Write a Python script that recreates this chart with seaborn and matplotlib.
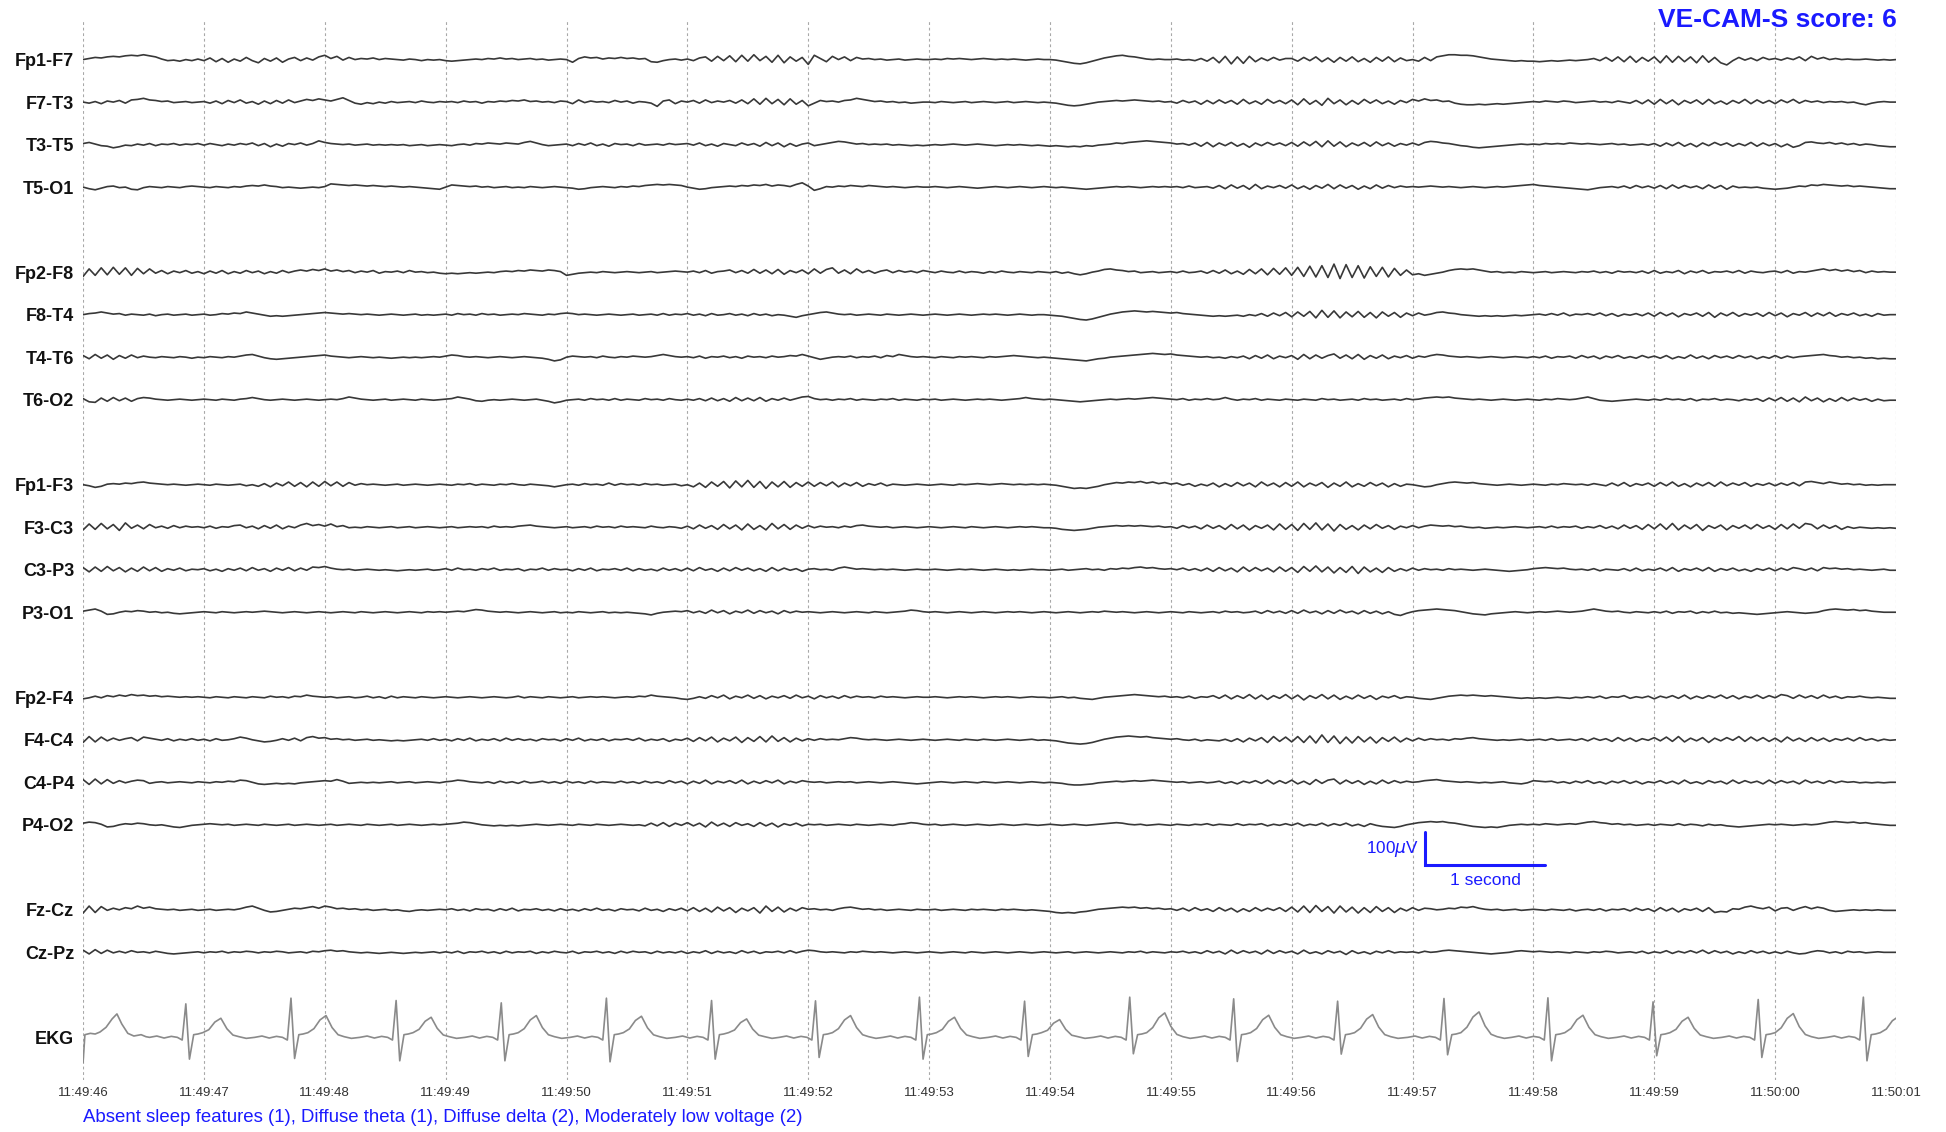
import numpy as np
import pandas as pd
import matplotlib
matplotlib.use("Agg")
import matplotlib.pyplot as plt
import seaborn as sns

# ---------------- data ----------------
FS = 20                 # EEG samples per second (values below, one row = 1 s)
UV_PER_UNIT = 1.6       # EEG values are written in steps of 1.6 microvolts
UV_PER_SLOT = 126.9     # vertical spacing between channel rows, in microvolts

channel_names = ["Fp1-F7", "F7-T3", "T3-T5", "T5-O1",
                 "Fp2-F8", "F8-T4", "T4-T6", "T6-O2",
                 "Fp1-F3", "F3-C3", "C3-P3", "P3-O1",
                 "Fp2-F4", "F4-C4", "C4-P4", "P4-O2",
                 "Fz-Cz", "Cz-Pz"]
channel_slots = [0, 1, 2, 3, 5, 6, 7, 8, 10, 11, 12, 13, 15, 16, 17, 18, 20, 21]
ekg_label = "EKG"
ekg_slot = 23

time_labels = ["11:49:46", "11:49:47", "11:49:48", "11:49:49", "11:49:50",
               "11:49:51", "11:49:52", "11:49:53", "11:49:54", "11:49:55",
               "11:49:56", "11:49:57", "11:49:58", "11:49:59", "11:50:00",
               "11:50:01"]

fp1_f7 = [
    0, 2, 4, 3, 5, 6, 5, 7, 8, 7, 9, 7, 5, 1, -2, -1, -3, 0, -2, 1,
    -2, 3, -4, 2, -5, 1, -3, 4, -2, -6, 2, -3, 3, -5, 1, 4, -2, 3, -1, 5,
    8, 2, 6, -1, 4, 0, 2, 1, 3, 0, 2, 1, 0, -1, 1, 0, -2, 0, -1, 0,
    -2, -3, -2, -1, 0, 1, 0, 2, 1, 3, 1, 2, 0, 1, 2, 0, 1, -1, 0, 1,
    0, -5, 2, 5, 3, 4, 1, 3, 2, 4, 2, 3, 1, 2, -4, -5, -2, 0, 1, -1,
    1, -2, 3, 5, -3, 6, -2, 7, -4, 8, -3, 9, -2, 6, -5, 8, -6, 5, -3, 4,
    -9, 8, 2, -4, 6, 0, 5, -2, 4, 1, 2, 0, 1, -1, 0, 1, -1, 0, 1, 0,
    0, 1, 0, 2, 1, 2, 1, 0, 1, 2, 1, 0, 1, 0, 1, 0, -1, 0, 1, 0,
    0, -1, -3, -5, -7, -8, -6, -3, 0, 3, 5, 7, 8, 6, 5, 3, 1, 0, 1, 0,
    0, 1, -1, 0, -2, 2, -3, 4, -6, 6, -8, 5, -7, 6, -4, 3, -2, 4, -1, 2,
    2, -3, 4, -2, 5, -4, 3, -5, 4, -3, 5, -4, 2, -5, 4, -3, 5, -4, 3, -2,
    0, -3, 4, -2, 5, 7, 9, 9, 8, 8, 7, 5, 3, 1, 0, -1, -2, -3, -2, -3,
    -3, -4, -3, -2, -3, -2, -1, -2, -1, 0, 2, -2, 4, -3, 5, -4, 6, -5, 4, -3,
    5, -6, 7, -5, 6, -4, 5, -6, 7, -5, 4, -6, -10, -2, 4, -1, 3, -2, 4, 0,
    2, -1, 3, 0, 5, -2, 6, 1, 4, 0, 2, 0, 1, 0, 0, 1, 0, -1, 0, -1,
    0]
f7_t3 = [
    0, -2, 1, -3, 2, 0, 3, -2, 4, 5, 7, 4, 3, 1, 2, -1, 0, 1, -1, 0,
    1, -2, 2, -3, 3, -1, 4, -2, 1, -4, 2, -3, 3, -2, 4, -1, 2, 5, 3, 6,
    4, 2, 5, 8, 3, -2, -4, -1, -3, 0, -2, 1, -1, 0, 1, -1, 2, 0, -1, 1,
    0, 1, -1, 2, 0, 1, -2, 1, 0, 2, 1, 3, 2, 4, 1, 2, 0, 1, -1, 2,
    1, -3, 4, -1, 2, 0, 1, -1, 3, 0, 2, -2, 1, 0, -2, -8, 2, 4, -3, 2,
    0, 3, -2, 4, -1, 2, 0, 3, -2, 4, -3, 6, -4, 7, -3, 5, -5, 6, -4, 3,
    -7, -2, 3, 1, 2, 0, 3, 4, 7, 5, 3, 1, 2, 0, 1, -1, 0, -2, -1, 0,
    0, -1, 1, 0, -1, 0, 1, -1, 0, 1, 0, -1, 0, 1, -1, 0, 1, 0, -1, 0,
    -1, -2, -4, -6, -7, -6, -4, -2, 0, 1, 2, 3, 2, 3, 4, 3, 2, 1, 2, 0,
    1, -2, 3, -1, 2, -4, 3, -3, 4, -2, 3, -4, 5, -3, 2, -4, 5, -2, 3, -3,
    4, -5, 6, -4, 3, -6, 7, -3, 4, -5, 3, -4, 5, -2, 4, -3, 2, -4, 3, -1,
    5, 2, 6, 3, 4, 1, 2, -2, -4, -5, -5, -4, -5, -4, -3, -4, -3, -2, -1, 0,
    1, 0, 2, 1, 0, 2, 1, -1, 0, 1, 2, 0, 1, -1, 2, 0, -2, 3, -3, 4,
    -4, 5, -3, 4, -5, 3, -2, 4, -4, 5, -3, 2, -4, 3, -2, 5, -3, 4, -2, 3,
    -3, 4, -1, 5, -2, 3, 0, 2, -1, 1, 0, 1, -1, 0, -3, -5, -2, 0, 1, 0,
    0]
t3_t5 = [
    2, 4, 1, -2, -3, -6, -4, -1, -2, 1, -1, 2, -2, 1, 0, 2, -1, 1, 0, 2,
    -1, 2, 0, -2, 1, -1, 2, 0, 3, -2, 2, -4, 1, -3, 2, 0, 3, -1, 2, 7,
    4, 2, 1, 0, 1, -1, 0, 1, -1, 0, -1, 0, -1, 0, -2, -1, 0, -2, -1, 0,
    -1, -2, 0, 1, -1, 2, 1, 3, 2, 1, 3, 2, 1, 4, 6, 3, 0, -2, -1, 0,
    1, -2, 2, -1, 3, -2, 1, -3, 2, 0, 1, -2, 2, -1, 0, 1, -1, 2, 0, 1,
    2, -1, 3, -2, 1, -3, 2, 0, -2, 3, -1, 2, -3, 4, -2, 3, -4, 2, -3, 1,
    3, -2, 0, 2, 4, 6, 5, 3, 1, 2, 0, 1, 0, 1, -1, 0, -1, -2, -1, -2,
    -1, 0, -1, 0, 1, 0, -1, 0, 1, 0, -1, -2, -1, 0, -1, 0, -1, -2, -1, -2,
    -3, -2, -3, -4, -3, -4, -2, -3, -1, 0, 1, 3, 2, 4, 5, 6, 7, 6, 5, 4,
    3, 1, 2, -1, 3, -3, 4, -4, 3, -2, 4, -3, 2, -5, 3, -2, 4, -1, 3, -2,
    4, -3, 5, -2, 6, -4, 7, -3, 5, -4, 3, -2, 4, -3, 5, -2, 3, -3, 2, -1,
    3, -1, 4, 6, 5, 3, 2, 0, -2, -3, -5, -6, -5, -4, -3, -2, -1, 0, 1, 0,
    1, 0, 2, 1, 2, 1, 3, 2, 1, 2, 1, 0, 1, 2, 0, 1, -1, 0, 1, -1,
    2, -3, 3, -2, 4, -3, 2, -4, 3, -2, 4, -1, 3, -3, 2, -2, 4, -3, 3, -2,
    2, -4, 1, -5, -2, 4, 5, 3, 2, 4, 1, 3, 0, 2, -1, 1, 0, -2, -3, -4,
    -4]
t5_o1 = [
    0, -3, -5, -2, 1, 2, -1, 0, -4, -5, -1, 1, 0, -1, 1, 0, -1, 1, 2, 1,
    0, -1, 1, 0, -1, 1, 0, 2, 3, 2, 4, 2, 1, -1, 0, -1, -2, -1, 0, -1,
    1, 6, 5, 4, 3, 4, 3, 2, 3, 2, 1, 2, 1, 0, 1, 0, -1, -2, -3, -4,
    0, 4, 3, 2, 1, 2, 0, 1, -1, 0, 1, -1, 0, -1, 1, 0, -1, 0, 1, 0,
    -1, -2, -4, -3, -1, 0, 1, 0, -1, 1, 0, 2, 1, 3, 4, 5, 4, 5, 4, 3,
    0, -2, -4, -3, -1, 0, 1, 2, 1, 3, 2, 4, 3, 5, 2, 4, 3, 1, 5, 8,
    2, -6, -3, 1, 0, 2, 1, 3, 2, 1, 3, 2, 1, 0, 1, 0, -1, 0, 1, 0,
    0, 1, 0, -1, 0, 1, 0, -1, -2, -1, 0, 1, 0, -1, 0, 1, 0, -1, 0, 1,
    0, -1, 0, -1, -2, -3, -4, -3, -2, -1, 0, 1, 0, 1, 0, -1, 0, 1, 0, 1,
    0, 1, -1, 2, -1, 0, 1, -2, 3, -3, 4, -2, 3, -4, 5, -3, 2, -1, 3, -2,
    4, -3, 2, -4, 3, -2, 5, -3, 4, -2, 3, -4, 2, -3, 4, -2, 3, -1, 2, 0,
    1, 0, 1, 2, 1, 0, 1, 0, -1, 0, 1, 0, -1, 0, 1, 0, 1, 2, 3, 4,
    5, 3, 2, 1, 0, -1, -2, -3, -4, -5, -3, -1, 0, 1, -1, 2, -2, 3, -1, 2,
    -2, 3, -3, 4, -2, 3, -1, 2, -3, 4, -2, 3, -4, 2, -1, 0, -1, 0, -2, -3,
    -4, -3, -2, 0, 2, 1, 4, 3, 5, 4, 3, 2, 3, 1, 2, 1, 0, -1, -2, -3,
    -3]
fp2_f8 = [
    -8, 6, -6, 8, -5, 9, -4, 8, -6, 7, -3, 6, -2, 3, -3, 2, -1, 3, -2, 1,
    -3, 2, -2, 3, -3, 1, -2, 3, -1, 2, -3, 1, -2, 3, -1, 2, 4, 2, 5, 3,
    6, 2, 4, 1, 3, -1, 2, 0, 3, -2, 1, 0, 2, -1, 3, 0, 1, -1, 0, -2,
    -3, -2, -3, -2, -1, -2, -1, 0, -1, 1, 2, 1, 3, 2, 4, 3, 2, 4, 3, 1,
    -6, -4, -2, -1, 0, -1, 1, 0, -1, 0, 1, 0, -1, 0, 1, -1, 0, 1, 2, 1,
    0, 2, -1, 3, -2, 1, 2, 4, -1, 3, -2, 5, -2, 4, -3, 5, -4, 3, -1, 4,
    -3, 6, -2, 5, 8, -2, 4, -3, 6, -1, 3, -2, 2, 4, -1, 3, 0, 2, -1, 3,
    1, -1, 2, 0, -1, 2, -1, 1, 0, -2, 1, -1, 2, 0, -1, 1, 0, -1, 1, 0,
    -1, 1, -2, 0, -3, -5, -3, 0, 2, 5, 6, 4, 3, 1, 2, -1, 0, 1, -1, 0,
    1, -1, 2, -1, 0, 2, -2, 3, -2, 4, -3, 2, -4, 5, -3, 6, -5, 7, -4, 8,
    -6, 9, -8, 11, -9, 12, -10, 15, -12, 14, -10, 12, -11, 10, -8, 9, -9, 7, -6, 4,
    -5, -3, -6, -4, -2, 0, 3, 5, 6, 5, 6, 4, 2, 0, 1, -1, 0, -1, 1, 0,
    -1, 0, 1, -1, 0, 1, 0, -1, 1, 0, 2, -1, 1, -2, 2, 0, 1, -1, 2, -2,
    3, -2, 1, -1, 3, -3, 2, -1, 3, -2, 1, 0, 2, -1, 3, -2, 2, 0, -1, 1,
    2, -1, 3, -2, 1, 0, 2, 4, 6, 3, 5, 2, 4, 1, 3, -1, 2, 0, 1, 0,
    0]
f8_t4 = [
    0, 2, 3, 5, 3, 1, 2, -1, 1, 0, -1, 1, -2, 0, 1, -1, 0, 1, -1, 0,
    1, -1, 0, 2, 1, 3, 2, 5, 3, 1, -1, -3, -2, -3, -2, -1, 0, 1, 2, 3,
    4, 3, 2, 1, 2, 1, 0, 1, 0, -1, 0, 1, 0, -1, 0, 1, -1, 0, -1, 0,
    1, -1, 2, 0, 1, -1, 2, 0, 1, -1, 0, 1, 0, 2, 1, 0, -1, 1, 0, 2,
    3, 2, 0, 1, 0, -1, 0, 1, 0, -1, 0, 1, -1, 0, 1, -1, 2, -1, 1, 0,
    2, -1, 1, -2, 2, -1, 0, 2, -1, 1, -2, 2, -1, 1, -2, 0, -1, -3, -5, -2,
    0, 2, 4, 5, 3, 1, 0, 1, -1, 0, 1, 0, -1, 1, 0, -1, 0, 1, 0, -1,
    0, 1, 0, -1, 0, 1, 0, -1, 0, 1, 0, 1, 0, -1, 0, 1, 0, -1, 0, 0,
    -1, -2, -3, -5, -7, -9, -10, -8, -5, -2, 1, 3, 5, 6, 7, 6, 5, 6, 5, 4,
    3, 4, 2, 1, 0, -1, -2, -3, -2, -3, -2, -1, -3, 0, -2, 2, -3, 3, -2, 4,
    -4, 5, -3, 6, -6, 8, -5, 7, -6, 5, -4, 6, -5, 4, -6, 5, -3, 4, -5, 3,
    -2, 3, -1, 1, 4, 5, 3, 2, 0, -1, -2, -3, -2, -3, -2, -3, -2, -1, -2, -1,
    0, 1, -1, 2, -1, 3, -2, 1, 0, 2, -1, 3, -2, 2, -3, 1, -1, 2, -2, 3,
    -3, 4, -2, 3, -4, 2, -1, 3, -3, 4, -5, 3, -2, 4, -3, 2, -1, 3, -3, 4,
    -2, 3, -4, 2, -1, 4, -3, 3, -2, 4, -3, 2, -1, 3, -2, 1, -3, 2, -1, 0,
    0]
t4_t6 = [
    3, -3, 5, -2, 4, -4, 3, -2, 4, -1, 2, 0, -1, 1, 0, -1, 1, 0, -2, 0,
    -1, 1, 0, -1, 1, 0, 2, 4, 5, 2, -1, -3, -4, -3, -2, -1, 0, 1, 2, 3,
    4, 2, 1, 0, -1, 0, 1, 0, -1, 0, -1, -2, -1, 0, -1, 0, -1, 0, 1, 0,
    2, 4, 3, 1, 0, 1, 0, -1, 0, 1, 0, -1, 0, 1, 0, -1, -2, -4, -7, -5,
    0, 2, 1, 0, 1, -1, 2, 0, -1, 1, 0, 2, 1, 0, 1, 3, 5, 3, 1, 0,
    1, -1, 2, -2, 1, 0, 2, -1, 1, -2, 2, 0, 1, -1, 2, 0, 1, 3, 2, 5,
    2, -1, -4, -2, 0, 1, 0, 2, -1, 1, 0, 2, -1, 3, 1, 5, 3, 1, 0, 1,
    0, -1, 1, 0, -1, 1, 0, 1, 0, -1, 1, 0, 1, 2, 3, 2, 1, 0, -1, 0,
    -1, -2, -3, -4, -5, -6, -7, -5, -3, -2, 0, 1, 2, 3, 4, 5, 6, 7, 6, 5,
    6, 4, 3, 2, 1, 0, 1, -1, 0, -2, 1, -1, 2, -3, 3, -2, 4, -3, 2, -1,
    3, -4, 5, -3, 4, -2, 3, 6, -2, 4, -3, 5, -4, 3, -2, 4, -3, 2, -1, 3,
    -2, 2, 0, 3, 5, 4, 2, 1, 0, 1, 0, -1, 0, 1, 0, -1, 0, 1, 0, -1,
    1, -1, 2, -2, 1, 0, 2, -2, 3, -1, 2, -3, 2, -1, 3, -2, 1, -2, 3, -1,
    2, -2, 3, -3, 1, -2, 4, -2, 2, -3, 3, -1, 2, -2, 3, -1, 2, -3, 1, -2,
    3, -2, 2, -1, 1, 2, 3, 4, 5, 3, 2, 0, 1, -1, 0, -2, -1, -3, -2, -3,
    -3]
t6_o2 = [
    2, -4, -5, 3, -3, 4, -2, 3, -3, 2, 4, 3, 1, 0, -1, 0, 1, 0, -1, 0,
    1, 0, -1, 1, 0, -1, 1, 2, 4, 2, 0, -1, 0, 1, 0, -1, 0, 1, 0, -1,
    0, 1, 0, 2, 5, 3, 1, 0, -1, 0, 1, -1, 0, 1, 0, -1, 1, 0, -1, 0,
    1, 2, 5, 3, 1, -2, -3, -1, 0, -1, 0, 1, 0, -1, 0, 1, -1, -3, -6, -4,
    -1, 0, 1, -1, 2, 0, 1, -1, 2, -1, 1, 0, -1, 2, 0, 1, -1, 2, 0, -1,
    1, -1, 2, -2, 3, -2, 2, -3, 4, -2, 3, -2, 4, -3, 2, -1, 3, -1, 2, 5,
    6, 2, 0, 1, -1, 1, 0, 2, -1, 1, 0, -1, 1, 0, 2, -1, 1, 0, -1, 1,
    0, 1, -1, 0, 1, 0, -1, 0, 1, 0, 1, 0, -1, 0, 1, 2, 4, 2, 1, 0,
    1, 0, -1, -2, -3, -4, -3, -2, -1, 0, 1, 0, 1, 2, 1, 2, 3, 4, 3, 2,
    1, 0, 2, -1, 1, 0, 2, 0, 1, 4, 1, -1, 1, 0, 2, -1, 1, 0, -1, 1,
    0, -1, 1, 0, -1, 2, 0, 1, -1, 0, 1, -1, 2, 0, 1, -1, 0, 1, -1, 2,
    0, 1, 3, 4, 5, 4, 5, 3, 2, 1, 0, 1, 0, -1, 0, 1, 0, -1, 0, 1,
    0, -1, 1, 0, 2, 1, 0, 1, 3, 5, 2, -1, -2, -3, -2, -1, 0, 1, 0, -1,
    1, -1, 2, 0, 1, -1, 2, -2, 1, 0, 2, -1, 1, 0, -2, 1, -1, 2, -3, 3,
    -2, 4, -3, 3, -4, 5, -2, 3, -4, 2, -3, 4, -2, 3, -1, 2, -3, 1, -2, -1,
    -1]
fp1_f3 = [
    0, -2, -5, -3, 1, 2, 1, 3, 2, 4, 5, 3, 2, 1, 0, 1, 0, -1, 0, 1,
    0, -1, 1, 0, -1, 0, 1, -2, 0, -3, 2, -4, 3, -2, 5, -3, 4, -4, 5, -3,
    6, -2, 5, -3, 4, -1, 2, 0, 1, 0, -1, 0, 1, -1, 0, 1, 0, -1, 0, 1,
    0, -1, 1, 0, 2, -1, 1, 0, -1, 1, 0, 2, 0, -1, 1, 0, -1, -2, -4, -2,
    0, 1, -1, 2, 0, 1, -1, 3, -1, 2, 0, 1, -1, 2, 0, 1, -1, 0, 1, -2,
    0, -4, 3, -5, 5, -3, 6, -6, 7, -4, 8, -5, 6, -7, 5, -4, 6, -5, 4, -3,
    5, -3, 4, -2, 5, -4, 3, -2, 4, -3, 2, -1, 3, -2, 1, 0, -1, 0, 1, 0,
    -1, 0, 1, 0, -1, 1, 0, 1, 2, 1, 0, 1, 2, 1, 0, 1, 0, 1, 0, 1,
    0, -1, -3, -5, -7, -6, -7, -5, -3, 0, 2, 4, 3, 5, 4, 6, 3, 5, 2, 4,
    1, 3, -1, 2, -3, 1, -2, 3, -4, 2, -3, 4, -2, 3, -4, 5, -2, 3, -4, 4,
    -3, 5, -4, 3, -2, 4, -5, 3, -3, 5, -4, 2, -3, 4, -2, 3, -4, 2, -3, 1,
    0, -2, -4, -3, 0, 2, 4, 5, 4, 3, 4, 2, 1, 0, -1, 0, 1, 0, -1, 0,
    1, 0, -1, 1, 0, 2, 1, 0, 1, -1, 2, 0, -2, 3, -2, 4, -3, 2, -1, 3,
    -3, 4, -2, 5, -3, 2, -4, 3, -2, 4, -3, 5, -2, 3, -1, 4, -3, 2, -1, 3,
    -2, 3, -1, 4, -2, 5, 6, 4, 2, 5, 3, 1, 2, 0, 1, -1, 0, -1, 0, 0,
    0]
f3_c3 = [
    -5, 6, -4, 7, -3, 5, -6, 8, -2, 4, -3, 5, -1, 2, -2, 3, -1, 2, 0, 1,
    -1, 2, -2, 1, 0, 3, 4, -1, 2, -3, 3, -2, 4, -3, 2, -1, 4, 7, 3, 5,
    2, 6, 1, 3, -1, 0, -1, 1, 0, -1, 0, 1, -1, 0, 1, -1, 0, 1, 0, -1,
    0, 1, -1, 0, 1, 0, 1, -1, 2, 0, 1, 0, 2, 3, 4, 2, 1, 0, -1, 0,
    1, -1, 0, 1, -1, 2, 0, 1, -1, 2, 0, 1, 0, -1, 2, 0, -1, 1, 0, -2,
    2, -3, 4, -2, 3, -4, 5, -3, 4, -5, 6, -4, 3, -5, 7, -3, 5, -4, 4, -2,
    3, -1, 2, 0, 1, -1, 2, 0, 3, 4, 2, 1, 0, 1, -1, 0, 1, 0, -1, 0,
    1, 0, -1, 0, 1, 0, -1, 1, 0, -1, 0, 1, 0, -1, 0, 1, 0, 1, 0, -1,
    -1, -2, -4, -5, -6, -5, -4, -2, 0, 1, 2, 3, 2, 3, 2, 3, 2, 1, 2, 0,
    1, -2, 3, -1, 2, -3, 4, -2, 3, -4, 5, -3, 4, -5, 3, -2, 4, -5, 6, -4,
    5, -6, 7, -4, 8, -5, 6, -7, 5, -4, 3, -5, 4, -3, 5, -2, 3, -4, 2, -1,
    3, -1, 2, 4, 3, 2, 3, 1, 2, 0, -1, 0, -2, -1, 0, -1, 0, 1, 0, -1,
    0, 1, -1, 2, -1, 1, 0, 2, -2, 1, -1, 3, -2, 2, -3, 4, -2, 3, -4, 5,
    -3, 6, -4, 7, -5, 4, -3, 5, -6, 3, -2, 4, -5, 3, -2, 4, -3, 5, -2, 3,
    -4, 5, -3, 6, -2, 7, 5, -3, 4, -2, 3, -4, 1, -2, 0, -1, -2, -1, -2, -1,
    -2]
c3_p3 = [
    4, -4, 5, -3, 6, -2, 4, -4, 3, -3, 5, -2, 4, -3, 2, -1, 3, -2, 1, 0,
    2, -2, 1, -3, 2, -1, 3, -2, 4, -1, 2, -3, 3, -1, 4, -2, 3, -1, 5, 4,
    6, 3, 1, 0, 1, -1, 0, 1, 0, -1, 0, -1, -2, -1, 0, -1, 0, 1, -1, 0,
    2, -1, 3, 0, 1, -1, 2, 0, 3, -1, 1, 0, 2, -2, 1, 0, 3, -1, 2, 0,
    1, -2, 2, -1, 3, -2, 1, 0, 2, -1, 3, -2, 2, -1, 1, -2, 3, -1, 2, -2,
    3, -2, 4, -1, 2, -3, 3, -2, 4, -1, 3, -2, 2, -3, 4, -2, 3, -1, 2, -3,
    1, 2, 0, 1, -1, 3, 5, 3, 1, 2, 1, 0, 1, 0, 1, 0, -1, 0, 1, 0,
    0, 1, 0, -1, 0, 1, 0, 1, 0, -1, 0, 1, 0, -1, 0, -1, 0, 1, 0, 0,
    -1, 0, 1, -1, 0, 1, 2, 0, 1, -1, 2, 1, 3, 2, 4, 5, 3, 4, 2, 1,
    2, 0, 3, -1, 2, -2, 3, -3, 4, -2, 3, -4, 5, -3, 4, -2, 3, -4, 5, -3,
    4, -5, 6, -3, 7, -4, 5, -6, 4, -5, 6, -7, 5, -4, 3, -5, 4, -3, 2, -2,
    3, -1, 2, 0, 1, -1, 2, 0, 1, 0, -1, 0, 1, 0, -1, -2, -3, -2, -1, 0,
    2, 3, 4, 3, 2, 3, 1, 0, 1, -1, 2, -2, 1, 0, -1, 2, -2, 3, -2, 1,
    -1, 3, -2, 4, -3, 2, -1, 3, -2, 4, -3, 2, -1, 3, -2, 1, -3, 2, -1, 3,
    -2, 3, -1, 4, 2, -1, 3, -2, 4, 2, 3, 1, 2, 0, 1, 0, -1, 0, 1, -1,
    -1]
p3_o1 = [
    2, 4, 6, 2, -4, -3, 0, 2, 1, 3, 2, 0, 1, -1, 0, -2, -3, -2, -1, 0,
    1, 0, -1, 1, 0, -1, 0, 1, 0, 1, 2, 1, 0, -1, 0, 1, 0, -1, 0, 1,
    0, -1, 0, 1, 0, -1, 1, 0, -1, 0, 1, 0, -1, 0, 1, 0, -1, 1, 0, 1,
    0, 1, 2, 1, 3, 5, 4, 2, 1, 0, 1, 0, -1, 0, 1, 0, -1, 0, 1, -1,
    0, -1, 1, 0, -1, 0, 1, -1, 0, -1, 0, -1, -2, -3, -5, -2, 0, 1, 2, 1,
    3, -1, 2, -2, 4, -1, 3, -3, 2, -1, 4, -2, 3, -1, 2, -3, 3, -1, 2, 0,
    1, 0, -1, 0, 1, 0, -1, 0, 1, 0, -1, 1, 0, -1, 0, 1, 2, 4, 3, 1,
    0, 1, 0, -1, 0, 1, 0, -1, 0, 1, 0, -1, 0, 1, 0, 1, 0, -1, 0, 1,
    0, -1, 0, 1, 0, -1, 0, 1, 0, 2, 1, 0, 1, 0, -1, 0, 1, 0, -1, 0,
    1, 0, -1, 1, 0, -1, 0, 1, -1, 2, 0, 1, -1, 0, 2, -2, 3, -1, 2, -2,
    3, -2, 4, -1, 2, -3, 3, -2, 4, -1, 2, -3, 3, -2, 2, -3, 1, -4, -6, -2,
    1, 3, 4, 5, 6, 5, 4, 3, 1, -1, -3, -4, -5, -3, -2, -1, 0, 1, 0, -1,
    0, 1, 0, 1, 2, 1, 0, 1, 2, 4, 6, 4, 2, 1, 2, 0, -1, 1, 0, -1,
    1, -1, 2, -2, 1, 0, 2, -2, 1, -1, 2, -1, 0, -2, -1, -2, -3, -4, -3, -2,
    -1, 0, 1, 0, -1, -2, -1, 0, 3, 5, 6, 5, 4, 5, 3, 4, 2, 1, 0, 0,
    0]
fp2_f4 = [
    -3, -1, 2, -1, 3, 1, 4, 2, 5, 3, 4, 2, 3, 1, 2, 1, 0, 1, 0, 1,
    0, -1, 1, 0, -1, 1, 0, -1, 1, 0, -1, 2, 0, 1, -1, 2, 1, 4, 2, 1,
    0, 1, -1, 0, 1, -1, 0, 2, -1, 1, -2, 2, -1, 1, 0, -1, 1, 0, -1, 0,
    1, 0, -1, 0, 1, 0, -1, 0, 1, 0, -1, 0, 2, -1, 1, 0, -1, 1, 0, -1,
    0, 1, -1, 0, 1, 0, 1, 0, -1, 0, 1, 0, 2, 1, 4, 2, 1, 0, -1, -3,
    -4, -2, 1, -2, 3, -1, 4, -3, 2, -1, 4, -2, 3, -3, 2, -1, 3, -2, 4, -1,
    2, -3, 3, -1, 2, -2, 3, -1, 2, 0, 1, -1, 2, 0, 1, 0, -1, 0, 1, 0,
    0, 1, 0, -1, 0, 1, 0, 1, 0, -1, 0, 1, 0, 1, 0, -1, 0, 1, 0, 0,
    -1, 0, 1, -1, 0, -2, -3, -4, -2, 0, 1, 2, 3, 4, 5, 4, 3, 2, 1, 2,
    0, 1, -1, 2, -2, 1, 0, 3, -2, 4, -3, 3, -2, 5, -3, 4, -4, 3, -2, 5,
    -3, 4, -5, 3, -2, 5, -3, 4, -4, 2, -3, 4, -2, 3, -4, 2, -1, 3, -2, 1,
    0, -2, -3, -4, -2, 0, 2, 3, 4, 3, 4, 3, 2, 3, 2, 1, 0, -1, -2, -1,
    -2, -1, -2, -1, 0, -1, -2, 0, -1, 1, -1, 2, -2, 1, 0, 3, -2, 1, -1, 2,
    -3, 2, -1, 3, -2, 4, -3, 2, -2, 3, -1, 4, -2, 3, -3, 2, -1, 4, -2, 3,
    -1, 5, 3, -2, 4, -1, 3, -2, 4, -1, 2, -2, 1, 0, 2, 0, -1, 0, -1, -2,
    -2]
f4_c4 = [
    -5, 6, -4, 5, -2, 3, -1, 2, 4, -2, 5, 3, 1, -1, 2, -2, 1, -1, 2, -1,
    1, -2, 2, -1, 0, 2, 5, 3, 0, -2, -4, -3, -1, 2, -1, 3, -2, 4, 6, 3,
    4, 1, 2, 0, 1, -1, 0, 1, -1, 0, -1, -2, -1, -2, -1, 0, 1, -1, 2, -1,
    1, -2, 2, -1, 3, -2, 1, -1, 2, -2, 3, -1, 2, -1, 1, -2, 2, 0, 1, -2,
    2, -1, 3, -2, 1, -1, 2, -2, 1, 0, 2, -1, 3, -2, 1, -1, 2, -3, 1, -1,
    3, -3, 4, -2, 5, -4, 3, -2, 5, -5, 4, -3, 6, -4, 7, -3, 4, -4, 3, -2,
    2, -1, 2, 0, 1, 0, 2, 4, 3, 1, 0, 1, 0, -1, 0, 1, 0, -1, 0, 1,
    0, -1, 0, 1, 0, -1, 1, 0, -1, 1, 0, -1, 0, 1, 0, -1, 0, 1, -1, 0,
    -1, -2, -4, -6, -7, -8, -7, -5, -2, 1, 3, 5, 6, 7, 6, 5, 6, 4, 3, 2,
    1, 2, 0, -1, 1, -2, 0, -1, -2, 1, -3, 2, -4, 3, -2, 4, -5, 6, -3, 5,
    -4, 6, -5, 7, -6, 9, -5, 7, -7, 5, -6, 6, -4, 5, -6, 4, -3, 5, -4, 3,
    -2, 3, -1, 2, 0, 1, -1, 2, 1, 3, 4, 2, 1, 0, -1, 0, -1, 0, 1, -1,
    0, 1, -1, 2, -1, 0, 1, -1, 2, -2, 3, -1, 2, -3, 4, -2, 3, -3, 2, -1,
    4, -2, 5, -3, 6, -4, 3, -2, 4, -5, 3, -2, 4, -1, 6, -3, 5, -2, 4, -3,
    3, -4, 5, -2, 3, -3, 4, -2, 3, -3, 2, -1, 3, -2, 4, -1, 2, -2, 1, -1,
    0]
c4_p4 = [
    5, -4, 6, -3, 5, -2, 3, -1, 2, 4, 3, -2, 0, 1, -1, 0, 1, 0, -1, 1,
    0, -1, 1, 0, 2, 1, 4, 3, 0, -3, -4, -3, -2, -3, -2, -3, -1, 0, 1, 2,
    3, 2, 5, 2, -2, -1, 0, -1, 0, -1, 0, 1, -1, 0, 1, -1, 0, 1, 0, -1,
    1, 2, 4, 3, 1, 0, -1, 1, -2, 2, -1, 1, -2, 2, -1, 0, 2, -1, 1, -2,
    2, -1, 1, -2, 2, -1, 1, 0, -1, 2, -1, 1, -2, 2, -1, 1, -2, 3, -1, 2,
    -3, 2, -2, 4, -3, 2, -1, 3, -2, 4, -3, 2, -2, 3, -1, 4, -3, 2, -1, 3,
    1, 0, 1, -1, 0, 1, 0, 1, -1, 0, 1, 0, -1, 0, 1, 0, -1, -2, -3, -2,
    -1, 0, 1, 0, -1, 0, 1, 0, -1, 1, 0, -1, 0, 1, 0, -1, 0, 1, 0, -1,
    0, -1, -2, -4, -5, -5, -4, -3, -1, 0, 1, 2, 1, 2, 3, 2, 3, 4, 3, 2,
    1, 0, 1, -1, 0, 1, -1, 0, 2, -2, 1, -3, 2, -1, 3, -2, 4, -3, 3, -2,
    4, -3, 2, -4, 5, -2, 4, 6, -3, 4, -2, 3, -4, 2, -3, 4, -2, 3, -1, 2,
    0, 1, 3, 4, 5, 3, 2, 1, 0, 1, 0, -1, 0, -1, 0, 1, -1, -2, -3, -1,
    3, 2, 1, 2, -1, 1, -2, 2, -1, 3, -2, 1, -3, 2, -1, 3, -2, 2, -3, 1,
    -1, 3, -2, 2, -3, 4, -2, 1, -3, 3, -1, 2, -3, 4, -2, 3, -1, 2, -3, 4,
    -2, 3, -1, 2, -3, 4, -1, 2, -2, 3, -1, 2, 0, 1, -1, 0, -1, 0, -1, 0,
    0]
p4_o2 = [
    3, 5, 4, 1, -4, -3, 0, 2, 1, 3, 2, 0, -1, 0, -2, -4, -5, -3, -1, 0,
    1, 2, 1, 0, 1, -1, 0, 1, 0, -1, 1, 0, -1, 0, 1, -1, 0, 1, 0, -1,
    0, 1, -1, 0, 1, 0, -1, 1, 0, -1, 0, 1, -1, 0, 1, 0, -1, 0, 1, 0,
    1, 2, 3, 5, 4, 2, 0, -1, -2, -1, -2, -1, -2, -1, 0, 1, 0, -1, 0, 1,
    0, -1, 1, 0, -1, 1, 0, -1, 0, 1, 0, -1, 0, -2, 3, -2, 4, -3, 3, -1,
    4, -2, 3, -4, 5, -2, 3, -3, 4, -1, 2, -3, 4, -2, 3, -4, 2, -1, 3, -2,
    1, 0, 1, -1, 0, 1, 0, -1, 1, 0, -1, 0, 1, 0, -1, 1, 2, 4, 3, 1,
    0, 1, -1, 0, 1, 0, -1, 0, 1, 0, -1, 0, 1, 0, -1, 0, 1, 0, -1, 0,
    1, 0, -1, 0, 1, 0, -1, 0, 1, 2, 3, 4, 3, 1, 0, 1, -1, 0, 1, 0,
    -1, 1, 0, -1, 1, 0, 2, -1, 1, 0, -1, 2, -1, 1, 0, 2, -2, 1, -1, 2,
    -1, 3, -2, 1, -1, 3, -2, 2, -1, 3, -2, 1, -3, 2, -1, -3, -4, -5, -3, 0,
    2, 4, 5, 6, 5, 6, 4, 3, 1, -1, -3, -4, -5, -4, -5, -3, -1, 0, 1, 0,
    1, 0, 2, 1, 0, 1, 2, 1, 3, 5, 6, 4, 3, 1, 2, 0, 1, -1, 0, 1,
    -1, 1, 0, -1, 2, -1, 1, 0, -2, 1, -1, 0, -2, -3, -4, -3, -2, -1, 0, 1,
    0, 1, 0, -1, 0, 1, 0, 1, 3, 5, 6, 5, 4, 5, 3, 4, 2, 1, 0, -1,
    -1]
fz_cz = [
    -6, 7, -5, 6, -1, 3, 0, 4, 2, 7, 3, 5, 2, 1, 0, 1, -1, 0, 1, -1,
    0, 1, -1, 0, 1, 0, 2, 5, 7, 3, -1, -4, -3, -1, 1, 3, 2, 4, 6, 3,
    7, 5, 2, 3, 1, 2, 0, 1, -1, 0, 1, -1, 0, -2, -3, -1, 0, -1, 0, 1,
    0, 2, -1, 1, -2, 2, 0, 1, -2, 2, -1, 3, -2, 1, 0, 2, -1, 1, -2, 2,
    -1, 1, -2, 2, -1, 3, -1, 1, -2, 2, 0, 1, -2, 3, -1, 1, -3, 2, -1, 3,
    -2, 4, -3, 3, -4, 5, -2, 4, -5, 3, -2, 4, -6, 7, -3, 5, -4, 3, -2, 4,
    1, 2, 0, 1, -1, 2, 4, 5, 3, 1, 2, 0, 1, -1, 0, 1, 0, -1, 1, 0,
    0, 1, -1, 0, 1, 0, -1, 1, 0, 1, 0, -1, 1, 0, 1, 0, -1, 0, -1, -2,
    -3, -5, -6, -5, -6, -4, -3, -1, 1, 2, 3, 4, 5, 4, 5, 3, 4, 2, 3, 1,
    2, -1, 3, -2, 4, -1, 2, -3, 4, -2, 3, -4, 2, -3, 4, -2, 3, -1, 4, -3,
    5, -4, 7, -5, 8, -3, 6, -6, 7, -4, 5, -6, 4, -5, 6, -3, 4, -5, 3, -2,
    4, -1, 3, 2, 0, 1, 3, 2, 5, 4, 6, 3, 1, 0, 1, -1, 0, 1, -1, 0,
    1, 0, -1, 1, 0, -1, 1, -2, 0, 1, -1, 2, -2, 1, 0, 2, -2, 3, -1, 2,
    -3, 4, -2, 3, -4, 2, -1, 3, -3, 4, -5, -3, -4, 2, 1, 5, 7, 4, 2, 5,
    -2, 3, 4, -1, 3, 6, 2, 5, 3, -1, -3, -2, -1, 0, -1, 0, -1, 0, -1, -1,
    -1]
cz_pz = [
    4, -3, 5, -2, 4, -1, 2, -1, 3, 0, 1, -1, 2, 0, -2, -3, -2, -1, 0, 1,
    -1, 1, 0, 2, -1, 1, 0, 2, 1, -1, 1, 0, 2, 1, -1, 0, 1, -1, 2, 1,
    3, 4, 2, 3, 1, 0, -1, 0, -1, -2, -1, 0, -1, -2, -1, 0, -1, 0, 1, -1,
    1, -1, 2, -2, 1, 0, 2, -1, 1, -2, 2, -1, 1, 0, 2, -2, 1, -1, 2, 0,
    -1, 2, -2, 1, 0, 2, -1, 1, -2, 2, -1, 2, 0, 1, -2, 2, -1, 1, -1, 2,
    -2, 1, -1, 3, -2, 2, -1, 1, -2, 3, -1, 2, -2, 1, 0, 2, -1, 3, -1, 2,
    4, 3, 1, 0, 1, 0, -1, 1, 0, 2, 1, 0, 1, 0, -1, 0, 1, 0, -1, 0,
    1, 0, -1, 0, 1, 0, -1, 1, 0, -1, 0, 1, 0, -1, 0, 1, 0, -1, 0, 1,
    0, -1, 0, 1, -1, 0, 1, 0, -1, 0, 1, 0, -1, 1, 0, 2, -1, 1, 0, -1,
    1, 0, 2, -1, 1, -2, 3, -1, 2, -3, 4, -2, 3, -1, 2, -3, 4, -2, 3, -1,
    2, -3, 4, -2, 1, -3, 3, -1, 2, -4, 3, -2, 1, -3, 2, -1, 3, -1, 1, 0,
    1, -1, 2, 0, 1, 3, 4, 3, 2, 1, 0, -1, -2, -3, -2, -1, 0, 2, 3, 2,
    1, 2, 1, 0, 1, 0, -1, 1, 0, -1, 1, 0, 2, 1, -1, 0, 1, -1, 2, -2,
    1, -1, 3, -2, 2, -1, 3, -1, 4, -2, 3, -1, 2, -3, 1, -2, 3, -1, 2, -2,
    1, -2, 2, -1, -3, -2, 1, 3, 2, -1, 1, -2, 2, 0, 1, -1, 0, 1, 0, 0,
    0]

eeg_values = [fp1_f7, f7_t3, t3_t5, t5_o1,
              fp2_f8, f8_t4, t4_t6, t6_o2,
              fp1_f3, f3_c3, c3_p3, p3_o1,
              fp2_f4, f4_c4, c4_p4, p4_o2,
              fz_cz, cz_pz]

# EKG (microvolts): beginning of trace, then one entry per heart beat
ekg_start_times = [0.0, 0.015, 0.06, 0.10, 0.14, 0.19, 0.24, 0.28, 0.32, 0.37, 0.42, 0.48, 0.52]
ekg_start_values = [-75, 8, 12, 10, 16, 30, 55, 70, 40, 12, 4, 8, 2]
ekg_r_times = [0.85, 1.72, 2.59, 3.46, 4.33, 5.20, 6.06, 6.92, 7.79,
               8.66, 9.52, 10.38, 11.26, 12.12, 12.99, 13.86, 14.73]
ekg_r_amp = [100, 117, 110, 103, 117, 110, 109, 120, 108,
             120, 115, 108, 116, 118, 106, 113, 120]
ekg_s_amp = [-65, -63, -70, -70, -73, -65, -60, -65, -57,
             -49, -72, -50, -52, -70, -55, -60, -70]
ekg_t_amp = [57, 65, 60, 65, 63, 55, 65, 60, 53,
             73, 66, 68, 76, 66, 60, 71, 62]
# shape of one beat, seconds relative to the R peak
ekg_pre_offsets = [-0.30, -0.24, -0.18, -0.12, -0.07, -0.03]
ekg_pre_values = [0, 4, -2, 3, 0, -8]
ekg_st_offsets = [0.065, 0.10, 0.14]
ekg_st_values = [8, 10, 14]
ekg_t_offsets = [0.19, 0.24, 0.29, 0.34, 0.39]
ekg_t_fraction = [0.4, 0.8, 1.0, 0.45, 0.12]
ekg_post_offsets = [0.44, 0.50]
ekg_post_values = [2, -3]
ekg_s_offset = 0.03

# ---------------- style ----------------
sns.set_style("white")
plt.rcParams["font.family"] = ["Liberation Sans", "DejaVu Sans"]
BLUE = "#1a1aff"
EEG_COLOR = "#383838"
EKG_COLOR = "#8a8a8a"

fig = plt.figure(figsize=(19.46, 11.32), dpi=100)
ax = fig.add_axes([0.0427, 0.04605, 0.9316, 0.93531])

# EEG traces
frames = []
for name, slot, vals in zip(channel_names, channel_slots, eeg_values):
    uv = np.asarray(vals, dtype=float) * UV_PER_UNIT
    t = np.arange(len(uv)) / FS
    frames.append(pd.DataFrame({"time": t, "pos": slot - uv / UV_PER_SLOT, "channel": name}))
eeg_df = pd.concat(frames, ignore_index=True)
sns.lineplot(data=eeg_df, x="time", y="pos", units="channel", estimator=None,
             color=EEG_COLOR, linewidth=1.2, sort=False, legend=False, ax=ax)

# EKG trace
ekg_t = list(ekg_start_times)
ekg_v = list(ekg_start_values)
for r, ra, sa, ta in zip(ekg_r_times, ekg_r_amp, ekg_s_amp, ekg_t_amp):
    ekg_t += [r + o for o in ekg_pre_offsets]
    ekg_v += ekg_pre_values
    ekg_t += [r, r + ekg_s_offset]
    ekg_v += [ra, sa]
    ekg_t += [r + o for o in ekg_st_offsets]
    ekg_v += ekg_st_values
    ekg_t += [r + o for o in ekg_t_offsets]
    ekg_v += [max(f * ta, 6) for f in ekg_t_fraction]
    ekg_t += [r + o for o in ekg_post_offsets]
    ekg_v += ekg_post_values
ekg_df = pd.DataFrame({"time": ekg_t,
                       "pos": ekg_slot - np.asarray(ekg_v, dtype=float) / UV_PER_SLOT})
sns.lineplot(data=ekg_df, x="time", y="pos", estimator=None, color=EKG_COLOR,
             linewidth=1.2, sort=False, legend=False, ax=ax)

# axes
ax.set_xlim(0, len(time_labels) - 1)
ax.set_ylim(24.0, -0.905)
ax.set_xticks(range(len(time_labels)))
ax.set_xticklabels(time_labels, fontsize=9.5, color="#333333")
ax.set_yticks(channel_slots + [ekg_slot])
ax.set_yticklabels(channel_names + [ekg_label], fontsize=13, fontweight="bold", color="#111111")
ax.tick_params(axis="both", length=0)
ax.tick_params(axis="x", pad=5)
ax.tick_params(axis="y", pad=6.5)
ax.set_xlabel("")
ax.set_ylabel("")
for sp in ax.spines.values():
    sp.set_visible(False)
ax.grid(False)
ax.grid(axis="x", color="#a8a8a8", linestyle=(0, (2.5, 2.5)), linewidth=0.8)
ax.set_axisbelow(True)

# calibration bar: 100 uV tall, 1 second wide
bar_t0 = 11.10
bar_base = 18.95
bar_top = bar_base - 100.0 / UV_PER_SLOT
ax.plot([bar_t0, bar_t0, bar_t0 + 1.0], [bar_top, bar_base, bar_base],
        color=BLUE, linewidth=2.2, solid_joinstyle="miter", zorder=5)
ax.text(bar_t0 - 0.05, (bar_top + bar_base) / 2 + 0.02, r"100$\mu$V", ha="right", va="center",
        fontsize=12.3, color=BLUE)
ax.text(bar_t0 + 0.5, bar_base + 0.36, "1 second", ha="center", va="center",
        fontsize=12.5, color=BLUE)

# header / footer
fig.text(0.9745, 0.9825, "VE-CAM-S score: 6", ha="right", va="center",
         fontsize=19, fontweight="bold", color=BLUE)
fig.text(0.0427, 0.0132,
         "Absent sleep features (1), Diffuse theta (1), Diffuse delta (2), Moderately low voltage (2)",
         ha="left", va="center", fontsize=13.4, color=BLUE)

fig.savefig("out.png", dpi=100)
